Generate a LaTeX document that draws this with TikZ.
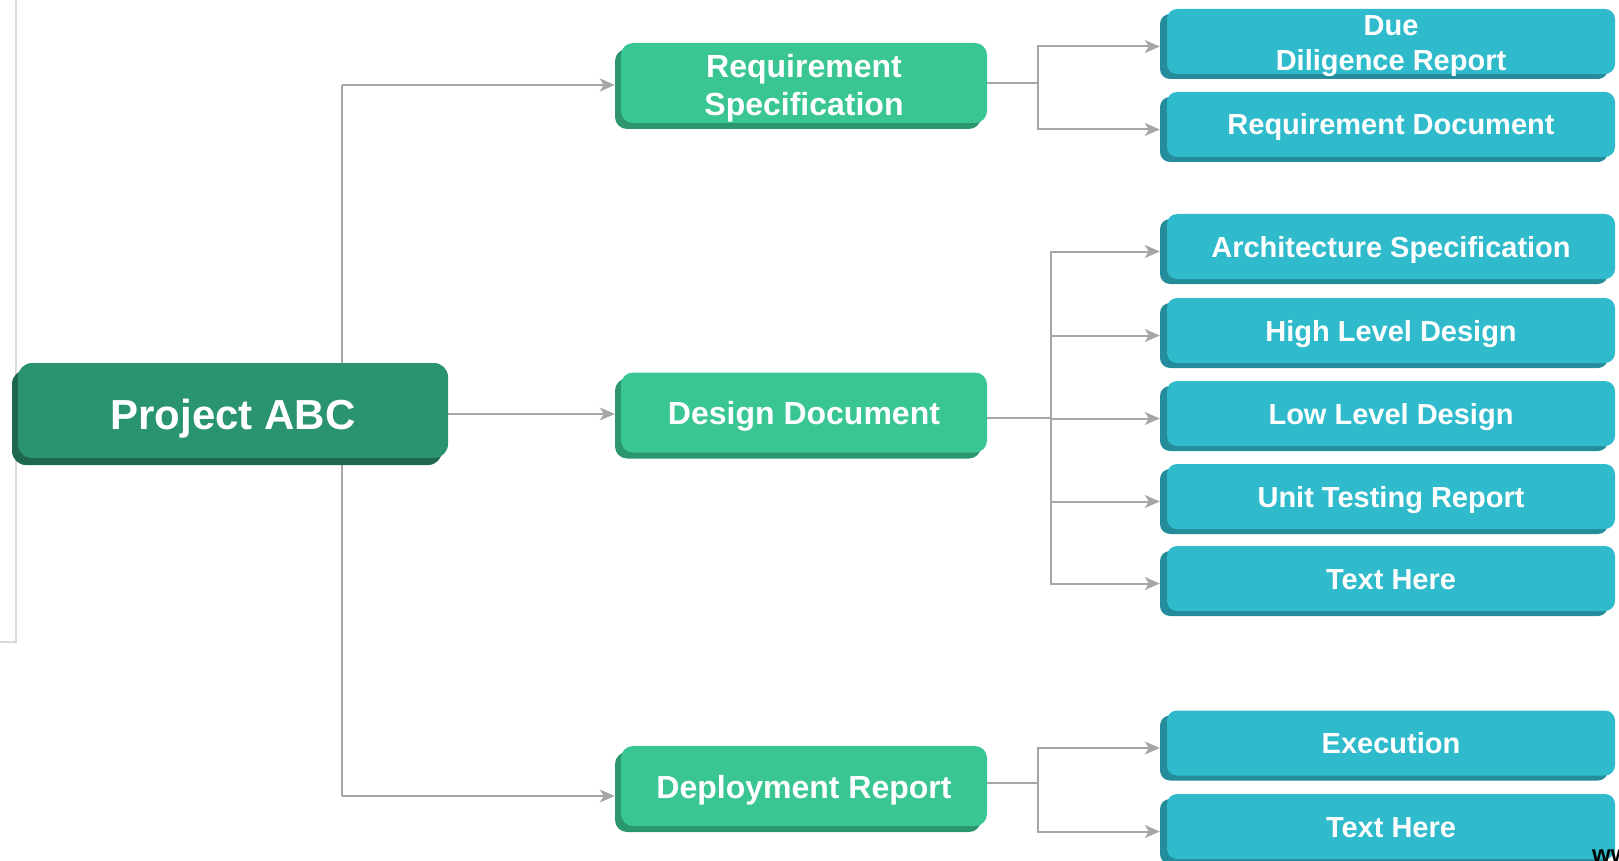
\documentclass[tikz,border=0pt]{standalone}
\usepackage{fontspec}
\setmainfont{Liberation Sans}
\usetikzlibrary{shadows,arrows.meta,backgrounds}
\definecolor{abcface}{RGB}{42,147,112}
\definecolor{abcshadow}{RGB}{31,104,79}
\definecolor{grface}{RGB}{58,198,146}
\definecolor{grshadow}{RGB}{44,150,111}
\definecolor{blface}{RGB}{47,187,204}
\definecolor{blshadow}{RGB}{36,140,155}
\definecolor{conncol}{RGB}{166,166,166}
\definecolor{framecol}{RGB}{218,218,218}
\begin{document}
\begin{tikzpicture}[x=1pt,y=-1pt,
 rootbox/.style={fill=abcface, rounded corners=14pt, minimum width=430pt, minimum height=95pt, inner sep=0pt, text=white, font=\fontsize{42}{48}\selectfont\bfseries, text height=37pt, text depth=0pt, general shadow={fill=abcshadow, shadow xshift=-6pt, shadow yshift=-7pt}},
 midbox/.style={fill=grface, rounded corners=12pt, minimum width=366pt, minimum height=80pt, inner sep=0pt, text=white, align=center, font=\fontsize{32}{38.5}\selectfont\bfseries, general shadow={fill=grshadow, shadow xshift=-6pt, shadow yshift=-6pt}},
 leafbox/.style={fill=blface, rounded corners=10pt, minimum width=448pt, minimum height=65pt, inner sep=0pt, text=white, align=center, font=\fontsize{29}{35}\selectfont\bfseries, general shadow={fill=blshadow, shadow xshift=-7pt, shadow yshift=-5pt}},
 midone/.style={text height=24pt, text depth=0pt},
 leafone/.style={text height=21pt, text depth=0pt},
 link/.style={draw=conncol, line width=2pt},
 arrowlink/.style={link, -{Stealth[length=15pt,width=13pt,inset=4pt]}}
]
\useasboundingbox (0,0) rectangle (1619,861);
\clip (0,0) rectangle (1619,861);

% left frame line
\draw[framecol, line width=2.5pt] (16,-5) -- (16,642) -- (-5,642);

% nodes
\node[rootbox] (abc) at (233,410.5) {Project ABC};

\node[midbox] (rs) at (804,83) {\rule{0pt}{34pt}Requirement\\Specification};
\node[midbox, midone] (dd) at (804,412.5) {Design Document};
\node[midbox, midone] (dr) at (804,786) {Deployment Report};

\node[leafbox] (b1) at (1391,41.5) {\rule{0pt}{24pt}Due\\\raisebox{0pt}[\height][0pt]{Diligence Report}};
\node[leafbox, leafone] (b2) at (1391,124.5) {Requirement Document};
\node[leafbox, leafone] (b3) at (1391,246.5) {Architecture Specification};
\node[leafbox, leafone] (b4) at (1391,330.5) {High Level Design};
\node[leafbox, leafone] (b5) at (1391,413.5) {Low Level Design};
\node[leafbox, leafone] (b6) at (1391,496.5) {Unit Testing Report};
\node[leafbox, leafone] (b7) at (1391,578.5) {Text Here};
\node[leafbox, leafone] (b8) at (1391,743) {Execution};
\node[leafbox, leafone] (b9) at (1391,826.5) {Text Here};

\node[anchor=base west, inner sep=0pt, font=\fontsize{24}{28}\selectfont\bfseries, text=black] (www) at (1592,862) {www};

% connection points
\coordinate (trunkTop) at (342,85);
\coordinate (trunkBot) at (342,796);
\coordinate (rsin) at ([xshift=-6pt]rs.west);
\coordinate (ddin) at ([shift={(-6pt,-1.5pt)}]dd.west);
\coordinate (drin) at ([xshift=-6pt]dr.west);
\coordinate (f1) at (1038,82.6);
\coordinate (f2) at (1051,418);
\coordinate (f3) at (1038,783);
\foreach \n in {b1,b2,b3,b4,b5,b6,b7,b8,b9}{
  \coordinate (\n-in) at ([shift={(-7pt,-5pt)}]\n.west);
}

\begin{scope}[on background layer]
  \draw[link] (trunkTop) -- (trunkBot);
  \draw[arrowlink] (trunkTop) -- (trunkTop -| rsin);
  \draw[arrowlink] (abc.east |- ddin) -- (ddin);
  \draw[arrowlink] (trunkBot) -- (trunkBot -| drin);

  \draw[link] (rs.east |- f1) -- (f1);
  \draw[arrowlink] (f1) |- (b1-in);
  \draw[arrowlink] (f1) |- (b2-in);

  \draw[link] (dd.east |- f2) -- (f2);
  \foreach \n in {b3,b4,b5,b6,b7}{
    \draw[arrowlink] (f2) |- (\n-in);
  }

  \draw[link] (dr.east |- f3) -- (f3);
  \draw[arrowlink] (f3) |- (b8-in);
  \draw[arrowlink] (f3) |- (b9-in);
\end{scope}
\end{tikzpicture}
\end{document}
